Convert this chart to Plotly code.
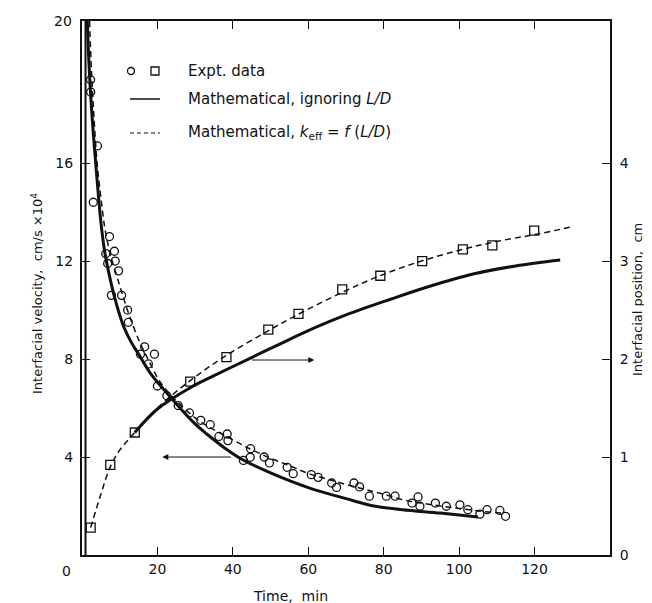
import plotly.graph_objects as go

# ---------------- data ----------------
# Experimental interfacial velocity (circles), cm/s x 10^4 vs time (min)
circ_t = [2.26, 2.3, 3.0, 4.1, 6.3, 6.8, 7.3, 7.8, 8.6, 8.8, 9.7, 10.5, 12.1, 12.3,
          15.5, 16.6, 17.6, 19.2, 20.0, 22.5, 25.5, 28.5, 31.5, 34.0, 36.3, 38.5,
          38.7, 42.8, 44.6, 44.7, 48.3, 49.7, 54.4, 56.0, 60.8, 62.6, 66.2, 67.5,
          72.1, 73.6, 76.2, 80.7, 83.0, 87.5, 89.1, 89.6, 93.7, 96.6, 100.2, 102.3,
          105.5, 107.4, 110.8, 112.3]
circ_v = [19.4, 18.9, 14.4, 16.7, 12.3, 11.9, 13.0, 10.6, 12.4, 12.0, 11.6, 10.6, 10.0, 9.5,
          8.2, 8.5, 7.8, 8.2, 6.9, 6.5, 6.1, 5.8, 5.5, 5.32, 4.84, 4.94,
          4.67, 3.86, 3.99, 4.34, 4.0, 3.76, 3.58, 3.32, 3.28, 3.17, 2.94, 2.76,
          2.94, 2.78, 2.40, 2.40, 2.40, 2.12, 2.37, 1.99, 2.12, 1.99, 2.05, 1.85,
          1.67, 1.85, 1.82, 1.58]

# Experimental interfacial position (squares), cm
sq_t = [2.3, 7.5, 14.0, 28.7, 38.3, 49.4, 57.4, 69.0, 79.1, 90.2, 101.0, 108.8, 119.9]
sq_p = [0.28, 0.92, 1.25, 1.77, 2.02, 2.30, 2.46, 2.71, 2.85, 3.00, 3.12, 3.16, 3.31]

# Mathematical, ignoring L/D  (solid)
solid_v_t = [1.4, 2.0, 3.0, 4.0, 5.0, 6.0, 7.0, 8.5, 10.0, 11.2, 13.0, 15.2, 18.0, 22.0,
             26.0, 30.0, 33.0, 38.0, 42.5, 50.0, 60.0, 70.0, 77.4, 85.0, 95.0, 105.0]
solid_v = [21.8, 19.6, 17.2, 15.3, 13.6, 12.4, 11.6, 10.6, 9.8, 9.27, 8.7, 8.15, 7.45, 6.7,
           6.0, 5.35, 4.95, 4.35, 3.9, 3.35, 2.75, 2.3, 2.0, 1.85, 1.71, 1.55]
solid_p_t = [14.0, 20.0, 28.8, 35.0, 44.7, 52.0, 60.0, 70.0, 81.8, 92.0, 104.0, 115.0, 126.8]
solid_p = [1.25, 1.49, 1.71, 1.83, 2.01, 2.145, 2.29, 2.45, 2.61, 2.74, 2.87, 2.95, 3.01]

# Mathematical, k_eff = f(L/D)  (dashed)
dash_v_t = [2.0, 2.5, 3.2, 4.0, 5.0, 6.0, 7.0, 8.0, 9.4, 11.0, 12.5, 15.0, 17.0, 21.0,
            25.0, 30.0, 34.0, 40.0, 45.0, 50.0, 55.0, 60.0, 65.0, 70.0, 75.0, 80.0,
            86.0, 90.0, 95.0, 100.0, 105.0, 112.0]
dash_v = [21.8, 19.8, 17.8, 16.0, 14.6, 13.4, 12.6, 12.0, 11.3, 10.5, 9.8, 8.8, 8.15, 7.0,
          6.3, 5.6, 5.2, 4.7, 4.3, 3.95, 3.65, 3.33, 3.1, 2.88, 2.68, 2.48,
          2.22, 2.12, 2.0, 1.9, 1.8, 1.7]
dash_p_t = [2.3, 5.0, 7.5, 10.0, 14.0, 20.0, 28.7, 38.0, 49.0, 57.0, 69.0, 79.0, 90.0,
            101.0, 110.0, 120.0, 130.0]
dash_p = [0.28, 0.62, 0.90, 1.07, 1.25, 1.50, 1.78, 2.03, 2.28, 2.45, 2.68, 2.85, 3.00,
          3.12, 3.20, 3.27, 3.35]

x_ticks = [20, 40, 60, 80, 100, 120]
v_ticks = [4, 8, 12, 16]
p_ticks = [0, 1, 2, 3, 4]

# ---------------- layout geometry (pixels) ----------------
FW, FH = 652, 603
L, R, T, B = 74, 602, 13, 547
W, H = R - L, B - T


def px(x):
    return (x - L) / W


def py(y):
    return (B - y) / H


FONT = "DejaVu Sans"
INK = "#111111"

fig = go.Figure()

# curves
fig.add_trace(go.Scatter(x=solid_v_t, y=solid_v, mode="lines", line=dict(color=INK, width=3, shape="spline"),
                         yaxis="y", showlegend=False))
fig.add_trace(go.Scatter(x=dash_v_t, y=dash_v, mode="lines", line=dict(color=INK, width=1.5, dash="6px,4px", shape="spline"),
                         yaxis="y", showlegend=False))
fig.add_trace(go.Scatter(x=solid_p_t, y=solid_p, mode="lines", line=dict(color=INK, width=3, shape="spline"),
                         yaxis="y2", showlegend=False))
fig.add_trace(go.Scatter(x=dash_p_t, y=dash_p, mode="lines", line=dict(color=INK, width=1.5, dash="6px,4px", shape="spline"),
                         yaxis="y2", showlegend=False))

# experimental points
fig.add_trace(go.Scatter(x=circ_t, y=circ_v, mode="markers", yaxis="y",
                         marker=dict(symbol="circle-open", size=8, color=INK, line=dict(width=1.3)),
                         showlegend=False))
fig.add_trace(go.Scatter(x=sq_t, y=sq_p, mode="markers", yaxis="y2",
                         marker=dict(symbol="square-open", size=9, color=INK, line=dict(width=1.3)),
                         showlegend=False))

shapes = []
annotations = []

# inner double line of left axis
shapes.append(dict(type="line", xref="paper", yref="paper", x0=px(77.5), x1=px(77.5), y0=0, y1=1,
                   line=dict(color=INK, width=2)))

# legend
shapes.append(dict(type="circle", xref="paper", yref="paper", x0=px(119.5), x1=px(126.5),
                   y0=py(66.5), y1=py(59.5), line=dict(color=INK, width=1.3)))
shapes.append(dict(type="rect", xref="paper", yref="paper", x0=px(143), x1=px(151),
                   y0=py(67), y1=py(59), line=dict(color=INK, width=1.3)))
shapes.append(dict(type="line", xref="paper", yref="paper", x0=px(122), x1=px(152),
                   y0=py(91), y1=py(91), line=dict(color=INK, width=1.5)))
shapes.append(dict(type="line", xref="paper", yref="paper", x0=px(122), x1=px(152),
                   y0=py(125), y1=py(125), line=dict(color=INK, width=1.2, dash="4px,3px")))
legend_text = ["Expt. data", "Mathematical, ignoring <i>L/D</i>",
               "Mathematical, <i>k</i><sub>eff</sub> = <i>f</i> (<i>L/D</i>)"]
for txt, yy in zip(legend_text, [63, 91, 125]):
    annotations.append(dict(text=txt, xref="paper", yref="paper", x=px(178), y=py(yy),
                            xanchor="left", yanchor="middle", showarrow=False,
                            font=dict(family=FONT, size=15, color=INK)))

# arrows
annotations.append(dict(x=61.6, y=1.99, ax=44.7, ay=1.99, xref="x", yref="y2", axref="x", ayref="y2",
                        showarrow=True, arrowhead=2, arrowsize=1.2, arrowwidth=1, arrowcolor=INK, text=""))
annotations.append(dict(x=21.3, y=4.0, ax=39.9, ay=4.0, xref="x", yref="y", axref="x", ayref="y",
                        showarrow=True, arrowhead=2, arrowsize=1.2, arrowwidth=1, arrowcolor=INK, text=""))

# extra tick labels: "20" at top of left axis, "0" at origin
annotations.append(dict(text="20", xref="paper", yref="paper", x=px(66), y=1, xanchor="right", yanchor="middle",
                        showarrow=False, font=dict(family=FONT, size=14, color=INK)))
annotations.append(dict(text="0", xref="paper", yref="paper", x=px(58), y=py(563), xanchor="center", yanchor="middle",
                        showarrow=False, font=dict(family=FONT, size=14, color=INK)))

# axis titles
annotations.append(dict(text="Time,  min", xref="paper", yref="paper", x=px(282), y=py(588),
                        xanchor="center", yanchor="middle", showarrow=False,
                        font=dict(family=FONT, size=14, color=INK)))
annotations.append(dict(text="Interfacial velocity,  cm/s \u00d710<sup>4</sup>", xref="paper", yref="paper",
                        x=px(29), y=py(286), xanchor="center", yanchor="middle", textangle=-90,
                        showarrow=False, font=dict(family=FONT, size=13, color=INK)))
annotations.append(dict(text="Interfacial position,  cm", xref="paper", yref="paper",
                        x=px(629), y=py(292), xanchor="center", yanchor="middle", textangle=-90,
                        showarrow=False, font=dict(family=FONT, size=13, color=INK)))

fig.update_layout(
    width=FW, height=FH,
    margin=dict(l=L, r=FW - R, t=T, b=FH - B, pad=0),
    paper_bgcolor="white", plot_bgcolor="white",
    showlegend=False,
    shapes=shapes, annotations=annotations,
    xaxis=dict(range=[0, 140], tickvals=x_ticks, ticks="inside", ticklen=8, tickwidth=1, tickcolor=INK,
               showline=True, linecolor=INK, linewidth=2, mirror="ticks", showgrid=False, zeroline=False,
               tickfont=dict(family=FONT, size=14, color=INK), ticklabelstandoff=0),
    yaxis=dict(range=[0, 21.8], tickvals=v_ticks, ticks="inside", ticklen=8, tickwidth=1, tickcolor=INK,
               showline=True, linecolor=INK, linewidth=2, showgrid=False, zeroline=False,
               tickfont=dict(family=FONT, size=14, color=INK), ticklabelstandoff=4),
    yaxis2=dict(range=[0, 5.45], tickvals=p_ticks, overlaying="y", side="right", ticks="inside", ticklen=8,
                tickwidth=1, tickcolor=INK, showline=True, linecolor=INK, linewidth=2, showgrid=False,
                zeroline=False, tickfont=dict(family=FONT, size=14, color=INK), ticklabelstandoff=5),
)

fig.write_html("out.html")
